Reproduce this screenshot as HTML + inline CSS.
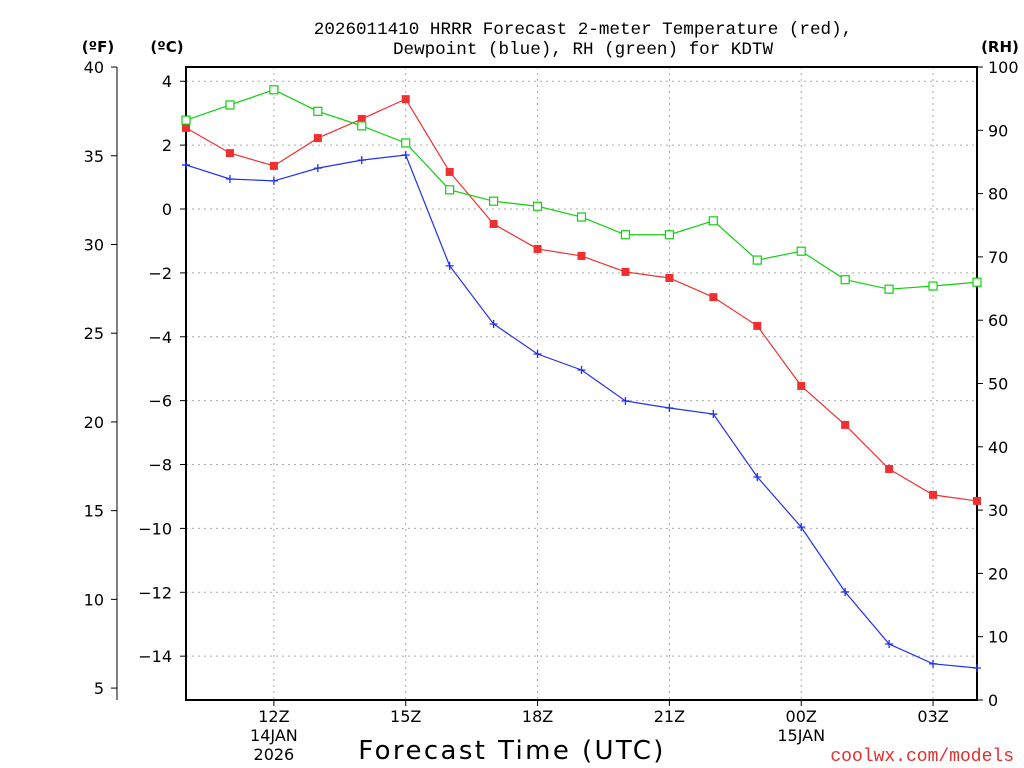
<!DOCTYPE html>
<html><head><meta charset="utf-8"><style>
body{margin:0;background:#fff;}
svg{display:block;font-family:"DejaVu Sans","Liberation Sans",sans-serif;}
</style></head><body>
<svg id="chart" width="1024" height="768" viewBox="0 0 1024 768">
<g id="grid"></g>
<rect x="186" y="67" width="791" height="633" fill="none" stroke="#000" stroke-width="2"/>
<g id="axes"></g>
<g id="series"></g>
<text x="583" y="34" text-anchor="middle" font-size="17.6" font-family="Liberation Mono, monospace">2026011410 HRRR Forecast 2-meter Temperature (red),</text>
<text x="583" y="54" text-anchor="middle" font-size="17.6" font-family="Liberation Mono, monospace">Dewpoint (blue), RH (green) for KDTW</text>
<text x="98" y="52" text-anchor="middle" font-size="15" font-weight="bold">(ºF)</text>
<text x="167" y="52" text-anchor="middle" font-size="15" font-weight="bold">(ºC)</text>
<text x="1000" y="52" text-anchor="middle" font-size="15" font-weight="bold">(RH)</text>
<text x="512" y="759" text-anchor="middle" font-size="26" letter-spacing="2.4">Forecast Time (UTC)</text>
<text x="1014" y="761" text-anchor="end" font-size="18" fill="#e03030" font-family="Liberation Mono, monospace">coolwx.com/models</text>
</svg>
<script>
const hours=[10,11,12,13,14,15,16,17,18,19,20,21,22,23,24,25,26,27,28];
const tempC=[2.54,1.75,1.35,2.22,2.82,3.44,1.16,-0.47,-1.25,-1.47,-1.97,-2.16,-2.76,-3.66,-5.54,-6.76,-8.14,-8.95,-9.14];
const dewC=[1.38,0.94,0.88,1.28,1.53,1.69,-1.78,-3.6,-4.54,-5.04,-6.01,-6.23,-6.42,-8.39,-9.96,-11.99,-13.62,-14.24,-14.37];
const rh=[91.6,94,96.4,93,90.7,88,80.6,78.8,78,76.3,73.5,73.5,75.7,69.5,70.9,66.4,64.9,65.4,66];
const cTicks=[4,2,0,-2,-4,-6,-8,-10,-12,-14];
const fTicks=[40,35,30,25,20,15,10,5];
const rhTicks=[100,90,80,70,60,50,40,30,20,10,0];
const xTickHours=[12,15,18,21,24,27];
const xTickLabels=["12Z","15Z","18Z","21Z","00Z","03Z"];
const NS="http://www.w3.org/2000/svg";
const X=h=>186+(h-10)*(791/18);
const YC=c=>209-c*31.94;
const YF=f=>YC((f-32)*5/9);
const YR=r=>700-r*6.33;
function mk(t,a,p){const e=document.createElementNS(NS,t);for(const k in a)e.setAttribute(k,a[k]);p.appendChild(e);return e;}
const grid=document.getElementById('grid'),axes=document.getElementById('axes'),ser=document.getElementById('series');
cTicks.forEach(c=>{
 const l=mk('line',{x1:186,x2:977,y1:YC(c),y2:YC(c),stroke:'#aaa','stroke-dasharray':'2,4'},grid);
 
 mk('line',{x1:180,x2:186,y1:YC(c),y2:YC(c),stroke:'#000'},axes);
 const t=mk('text',{x:172,y:YC(c)+6,'text-anchor':'end','font-size':16},axes);t.textContent=c<0?'\u2212'+(-c):c;
 
});
mk('line',{x1:117,x2:117,y1:67,y2:700,stroke:'#000'},axes);
fTicks.forEach(f=>{
 mk('line',{x1:111,x2:117,y1:YF(f),y2:YF(f),stroke:'#000'},axes);
 const t=mk('text',{x:104,y:YF(f)+6,'text-anchor':'end','font-size':16},axes);t.textContent=f;
 
});
rhTicks.forEach(r=>{
 mk('line',{x1:977,x2:983,y1:YR(r),y2:YR(r),stroke:'#000'},axes);
 const t=mk('text',{x:988,y:YR(r)+6,'font-size':16},axes);t.textContent=r;
 
});
xTickHours.forEach((h,i)=>{
 const l=mk('line',{x1:X(h),x2:X(h),y1:67,y2:700,stroke:'#aaa','stroke-dasharray':'2,4'},grid);
 
 mk('line',{x1:X(h),x2:X(h),y1:700,y2:706,stroke:'#000'},axes);
 const t=mk('text',{x:X(h),y:722,'text-anchor':'middle','font-size':16},axes);t.textContent=xTickLabels[i];
 
});
[[X(12),741,'14JAN'],[X(12),760,'2026'],[X(24),741,'15JAN']].forEach(d=>{
 const t=mk('text',{x:d[0],y:d[1],'text-anchor':'middle','font-size':16},axes);t.textContent=d[2];
 
});
function line(vals,yf,col,name){
 const p=mk('polyline',{points:vals.map((v,i)=>X(hours[i])+','+yf(v)).join(' '),fill:'none',stroke:col,'stroke-width':1.2},ser);
 
}
line(tempC,YC,'#f03030','temperature-line');
line(dewC,YC,'#2030f0','dewpoint-line');
line(rh,YR,'#10d010','rh-line');
tempC.forEach((v,i)=>{const r=mk('rect',{x:X(hours[i])-4,y:YC(v)-4,width:8,height:8,fill:'#f03030'},ser);
 });
rh.forEach((v,i)=>{const r=mk('rect',{x:X(hours[i])-4,y:YR(v)-4,width:8,height:8,fill:'#fff',stroke:'#10d010','stroke-width':1.2},ser);
 });
dewC.forEach((v,i)=>{const x=X(hours[i]),y=YC(v);const p=mk('path',{d:`M${x-4},${y}H${x+4}M${x},${y-4}V${y+4}`,stroke:'#2030f0','stroke-width':1.3},ser);
 });
</script>
</body></html>
